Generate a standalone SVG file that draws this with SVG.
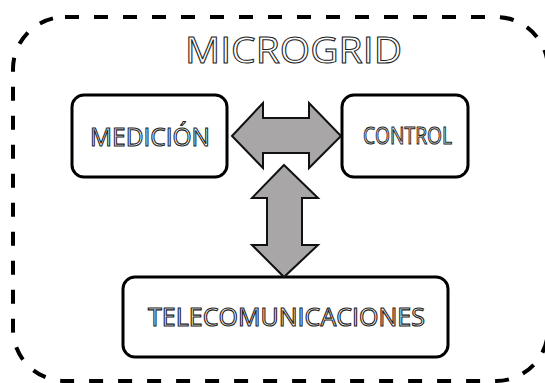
<svg xmlns="http://www.w3.org/2000/svg" width="545" height="383" viewBox="0 0 545 383">
<style>
.box{fill:#fff;stroke:#000;stroke-width:3}
.arrow{fill:#a8a6a6;stroke:#111;stroke-width:2;stroke-linejoin:miter}
.lbl{font-family:"Open Sans","Liberation Sans",sans-serif;fill:#fff;stroke:#222;stroke-width:1.1}
.title{font-family:"Open Sans","Liberation Sans",sans-serif;fill:#fff;stroke:#222;stroke-width:1}
</style>
<rect width="545" height="383" fill="#fff"/>
<g id="microgrid">
<rect x="13" y="17" width="535" height="364" rx="52" fill="none" stroke="#000" stroke-width="4" stroke-dasharray="14 15"/>
<text class="title" x="185" y="63" font-size="36" textLength="217" lengthAdjust="spacingAndGlyphs">MICROGRID</text>
</g>
<g id="medicion">
<rect class="box" x="72" y="95" width="155" height="82" rx="12"/>
<text class="lbl" x="90" y="146" font-size="26" textLength="120" lengthAdjust="spacingAndGlyphs">MEDICIÓN</text>
</g>
<g id="control">
<rect class="box" x="342" y="95" width="126" height="82" rx="12"/>
<text class="lbl" x="363" y="144" font-size="24" textLength="89" lengthAdjust="spacingAndGlyphs">CONTROL</text>
</g>
<g id="telecomunicaciones">
<rect class="box" x="123" y="277" width="325" height="80" rx="12"/>
<text class="lbl" x="148" y="326" font-size="25" textLength="277" lengthAdjust="spacingAndGlyphs">TELECOMUNICACIONES</text>
</g>
<g id="connectors">
<polygon class="arrow" points="232,136 263,103 263,118 309,118 309,103 341,136 309,168 309,153 263,153 263,168"/>
<polygon class="arrow" points="284,165 318,198 302,198 302,245 318,245 284,277 252,245 267,245 267,198 252,198"/>
</g>
</svg>
